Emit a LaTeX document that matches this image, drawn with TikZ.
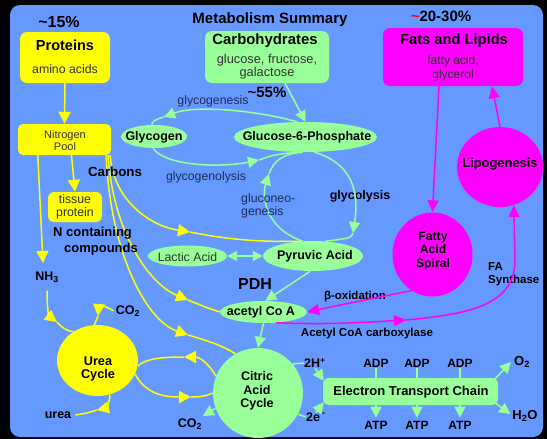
\documentclass[tikz,border=0pt]{standalone}
\usepackage{fontspec}
\setmainfont{Liberation Sans}
\usetikzlibrary{arrows.meta,shapes.geometric}
\definecolor{bgblue}{RGB}{102,153,255}
\definecolor{yel}{RGB}{255,255,0}
\definecolor{grn}{RGB}{153,255,153}
\definecolor{mag}{RGB}{255,0,255}
\definecolor{boxtxt}{RGB}{50,50,50}
\definecolor{lbltxt}{RGB}{30,40,90}
\newcommand{\myfs}[1]{\fontsize{#1}{#1}\selectfont}
\begin{document}
\begin{tikzpicture}[x=1pt,y=-1pt,
  ybox/.style={fill=yel, rounded corners=7pt, inner sep=0pt},
  gbox/.style={fill=grn, rounded corners=7pt, inner sep=0pt},
  mbox/.style={fill=mag, rounded corners=7pt, inner sep=0pt},
  gell/.style={ellipse, fill=grn, inner sep=0pt},
  bl/.style={font=\bfseries\myfs{12.5}, inner sep=0pt},
  nt/.style={font=\myfs{12.3}, text=lbltxt, inner sep=0pt},
  bt/.style={font=\myfs{12.3}, text=boxtxt, inner sep=0pt},
  yl/.style={color=yel, line width=1.5pt, >={Triangle[length=12pt,width=12pt]}},
  gl/.style={color=grn, line width=1.5pt, >={Triangle[length=11pt,width=11pt]}},
  ml/.style={color=mag, line width=1.5pt, >={Triangle[length=12pt,width=11pt]}},
]
% background
\fill[black] (0,0) rectangle (547,439);
\fill[bgblue, rounded corners=10pt] (10,5) rectangle (543,437);
\useasboundingbox (0,0) rectangle (547,439);

% titles and percentages
\node[bl, font=\bfseries\myfs{15}] (title) at (270,20) {Metabolism Summary};
\node[bl, font=\bfseries\myfs{16}] (p15) at (59,22) {\textasciitilde 15\%};
\node[bl, font=\bfseries\myfs{15}] (p55) at (267,92) {\textasciitilde 55\%};
\node[bl, font=\bfseries\myfs{15}] (p2030) at (441,16) {\textcolor{red}{\textasciitilde}20-30\%};

% Proteins
\node[ybox, minimum width=90pt, minimum height=51pt] (prot) at (65,57.5) {};
\node[bl, font=\bfseries\myfs{14.5}] (protT) at (65,45) {Proteins};
\node[bt] (protS) at (65,69) {amino acids};

% Nitrogen pool
\node[ybox, minimum width=93pt, minimum height=31pt, rounded corners=5pt] (pool) at (64.5,139.5) {};
\node[bt, font=\myfs{11}, align=center] (poolT) at (65,140.5) {Nitrogen\\[1pt]Pool};

% tissue protein
\node[ybox, minimum width=54pt, minimum height=30pt, rounded corners=6pt] (tis) at (75,207) {};
\node[bt, align=center] (tisT) at (75,207) {tissue\\[1pt]protein};

\node[bl] (nh3) at (47,277) {NH\textsubscript{3}};

% Urea cycle
\node[ellipse, fill=yel, minimum width=81pt, minimum height=71pt, inner sep=0pt] (urea) at (97.5,360.5) {};
\node[bl, align=center, font=\bfseries\myfs{12.7}] (ureaT) at (98,369) {Urea\\[1pt]Cycle};
\node[bl] (co2u) at (128,311) {CO\textsubscript{2}};
\node[bl] (ureaL) at (58,415) {urea};

% Carbohydrates
\node[gbox, minimum width=124pt, minimum height=52pt] (carb) at (267,57) {};
\node[bl, font=\bfseries\myfs{14.9}] (carbT) at (265,41) {Carbohydrates};
\node[bt, font=\myfs{12.8}] (carbS1) at (267,60) {glucose, fructose,};
\node[bt, font=\myfs{12.8}] (carbS2) at (267,73) {galactose};

% Glycogen, G6P
\node[gell, minimum width=66pt, minimum height=23pt] (glyc) at (154,136.5) {};
\node[bl] (glycT) at (154,137) {Glycogen};
\node[gell, minimum width=143pt, minimum height=30pt] (g6p) at (305.5,137) {};
\node[bl] (g6pT) at (307,137) {Glucose-6-Phosphate};
\node[nt] (gg) at (213,101) {glycogenesis};
\node[nt] (glysis) at (206,177) {glycogenolysis};
\node[bl] (glyco) at (360,196) {glycolysis};

% Lactic, Pyruvic, acetyl CoA
\node[gell, minimum width=79pt, minimum height=21pt] (lac) at (187.5,256) {};
\node[bt] (lacT) at (187.5,257) {Lactic Acid};
\node[gell, minimum width=100pt, minimum height=30pt] (pyr) at (313,256) {};
\node[bl] (pyrT) at (315,256) {Pyruvic Acid};
\node[bl, font=\bfseries\myfs{16}] (pdh) at (255,284) {PDH};
\node[gell, minimum width=87pt, minimum height=22pt] (acoa) at (263.5,312) {};
\node[bl] (acoaT) at (261,312) {acetyl Co A};
\node[bl, font=\bfseries\myfs{11.5}] (box) at (355,297) {β-oxidation};
\node[bl, font=\bfseries\myfs{11.6}] (acc) at (367,333) {Acetyl CoA carboxylase};

% Citric acid cycle
\node[circle, fill=grn, minimum size=90pt, inner sep=0pt] (cit) at (258,393) {};
\node[bl, align=center] (citT) at (257,391) {Citric\\[1pt]Acid\\[1pt]Cycle};
\node[bl] (co2c) at (190,424) {CO\textsubscript{2}};
\node[bl] (h2) at (315,363) {2H\textsuperscript{+}};
\node[bl] (e2) at (316,417) {2e\textsuperscript{−}};

% ETC
\node[gbox, minimum width=175pt, minimum height=27pt, rounded corners=6pt] (etc) at (410.5,391.5) {};
\node[bl, font=\bfseries\myfs{13}] (etcT) at (411,392) {Electron Transport Chain};
\node[bl, font=\bfseries\myfs{12}] (adp1) at (376,363) {ADP};
\node[bl, font=\bfseries\myfs{12}] (adp2) at (417,363) {ADP};
\node[bl, font=\bfseries\myfs{12}] (adp3) at (460,363) {ADP};
\node[bl, font=\bfseries\myfs{12}] (atp1) at (376,425) {ATP};
\node[bl, font=\bfseries\myfs{12}] (atp2) at (417,425) {ATP};
\node[bl, font=\bfseries\myfs{12}] (atp3) at (460,425) {ATP};
\node[bl, font=\bfseries\myfs{13}] (o2) at (522,362) {O\textsubscript{2}};
\node[bl, font=\bfseries\myfs{13}] (h2o) at (525,416) {H\textsubscript{2}O};

% Fats
\node[mbox, minimum width=140pt, minimum height=58pt] (fats) at (453,57) {};
\node[bl, font=\bfseries\myfs{14.7}] (fatsT) at (454,41) {Fats and Lipids};
\node[bt, font=\myfs{12}] (fatsS1) at (453,61) {fatty acid,};
\node[bt, font=\myfs{12}] (fatsS2) at (453,75) {glycerol};
\node[ellipse, fill=mag, minimum width=86pt, minimum height=80pt, inner sep=0pt] (lipo) at (500,167) {};
\node[bl, font=\bfseries\myfs{12.9}] (lipoT) at (500,164) {Lipogenesis};
\node[ellipse, fill=mag, minimum width=80pt, minimum height=84pt, inner sep=0pt] (spiral) at (432.5,254.5) {};
\node[bl, align=center, font=\bfseries\myfs{12.2}] (spiralT) at (433,251) {Fatty\\[1pt]Acid\\[1pt]Spiral};
\node[bl, font=\bfseries\myfs{11.5}, anchor=west, align=left] (fas) at (488,274) {FA\\[1pt]Synthase};

% ---------- yellow connectors ----------
\draw[yl,->] (prot.south) -- (pool.north);
\draw[yl,->] ([xshift=7pt]pool.south) -- (tis.north);
\coordinate (nh3tip) at (43,263);
\draw[yl,->] ([xshift=20pt]pool.south west) -- (nh3tip);
\coordinate (ynh) at (57,322);
\draw[yl,->] ([yshift=-8pt]nh3.south) .. controls (47,308) and (49,316) .. (ynh);
\draw[yl] (ynh) .. controls (62,328) and (67,331) .. (urea.130);
\coordinate (yco) at (98,316);
\draw[yl,->] ([xshift=-2pt]co2u.west) .. controls (106,306) and (99,305) .. (yco);
\draw[yl] (yco) .. controls (96,320) .. (urea.95);
\coordinate (yur) at (97,410);
\draw[yl,->] (urea.-70) .. controls (110,402) and (106,408) .. (yur);
\draw[yl] (yur) .. controls (88,413) and (82,414) .. ([xshift=4pt]ureaL.east);
% urea <-> citric
\coordinate (yu1) at (184,357);
\draw[yl,->] (cit.158) .. controls (206,360) and (198,357) .. (yu1);
\draw[yl] (yu1) .. controls (160,357) and (145,359) .. (urea.-8);
\coordinate (yu2) at (191,397);
\draw[yl,->] (urea.-20) .. controls (145,392) and (160,397) .. (yu2);
\draw[yl] (yu2) .. controls (200,397) and (207,396) .. (cit.180);
% carbons
\coordinate (ya) at (190,232);
\draw[yl,->] ([xshift=-1pt]pool.south east) .. controls (113,200) and (150,226) .. (ya);
\draw[yl] (ya) .. controls (230,240) and (260,242) .. (pyr.130);
\coordinate (yb) at (188,300);
\draw[yl,->] ([xshift=-3pt]pool.south east) .. controls (112,225) and (145,282) .. (yb);
\draw[yl] (yb) .. controls (200,305) and (210,309) .. (acoa.west);
\coordinate (yc) at (188,335);
\draw[yl,->] ([xshift=-5pt]pool.south east) .. controls (110,250) and (145,320) .. (yc);
\draw[yl] (yc) .. controls (205,340) and (222,345) .. (cit.120);

% ---------- green connectors ----------
\draw[gl,->] ([xshift=18pt]carb.south) -- (g6p.north);
\coordinate (ygg) at (164,117);
\draw[gl,->] (g6p.118) .. controls (255,110) and (195,105) .. (ygg);
\draw[gl] (ygg) .. controls (156,119) and (151,122) .. (glyc.100);
\coordinate (ygl) at (259,160);
\draw[gl,->] (glyc.-95) .. controls (165,166) and (220,168) .. (ygl);
\draw[gl] (ygl) .. controls (268,157) and (273,154) .. (g6p.-113);
\coordinate (ygn) at (269,174);
\draw[gl,->] (pyr.125) .. controls (264,228) and (262,195) .. (ygn);
\draw[gl] (ygn) .. controls (274,160) and (283,154) .. (g6p.-100);
\coordinate (ygy) at (353,233);
\draw[gl,->] (g6p.-60) .. controls (358,165) and (358,200) .. (ygy);
\draw[gl] (ygy) .. controls (351,238) .. (pyr.50);
\draw[gl,{Triangle[length=10pt,width=10pt]}-{Triangle[length=10pt,width=10pt]}] (lac.east) -- (pyr.west);
\draw[gl,->] (pyr.-100) -- (acoa.80);
\draw[gl,->] (acoa.south) -- (cit.north);
\coordinate (cco) at (203,416);
\draw[gl,->] (cit.200) -- (cco);
\draw[gl] (cit.40) -- (h2.west);
\draw[gl,->] (h2.south) -- ([xshift=1pt,yshift=-3pt]etc.north west);
\draw[gl] (cit.-28) -- (e2.west);
\draw[gl,->] (e2.north) -- ([xshift=1pt,yshift=3pt]etc.south west);
\foreach \a in {adp1,adp2,adp3} {\draw[gl] ([yshift=-1pt]\a.south) -- (\a.south |- etc.north);}
\foreach \a in {atp1,atp2,atp3} {\draw[gl,->] (\a.north |- etc.south) -- ([yshift=3pt]\a.north);}
\draw[gl,->] ([xshift=-4pt,yshift=-2pt]etc.north east) -- ([xshift=-3pt]o2.west);
\draw[gl,->] ([xshift=-4pt,yshift=3pt]etc.south east) -- ([xshift=-2pt,yshift=2pt]h2o.west);

% ---------- magenta connectors ----------
\draw[ml,->] ([xshift=-14pt]fats.south) -- (spiral.north);
\draw[ml,->] (lipo.north) -- ([xshift=39pt]fats.south);
\draw[ml,->] (spiral.-120) .. controls (380,297) and (340,305) .. (acoa.east);
\coordinate (ycb) at (406,320);
\draw[ml,->] (acoa.-40) .. controls (330,325) and (370,322) .. (ycb);
\draw[ml,->] (ycb) .. controls (470,314) and (515,305) .. (515,260) -- (lipo.-70);

% labels drawn over the connectors
\node[nt, align=left, anchor=west] (gneo) at (241,206) {gluconeo-\\[1pt]genesis};
\node[bl, font=\bfseries\myfs{13.3}] (carbons) at (115,172) {Carbons};
\node[bl, font=\bfseries\myfs{13}, anchor=west] (ncont) at (53,233) {N containing};
\node[bl, font=\bfseries\myfs{13}] (ncomp) at (101,249) {compounds};
\end{tikzpicture}
\end{document}
